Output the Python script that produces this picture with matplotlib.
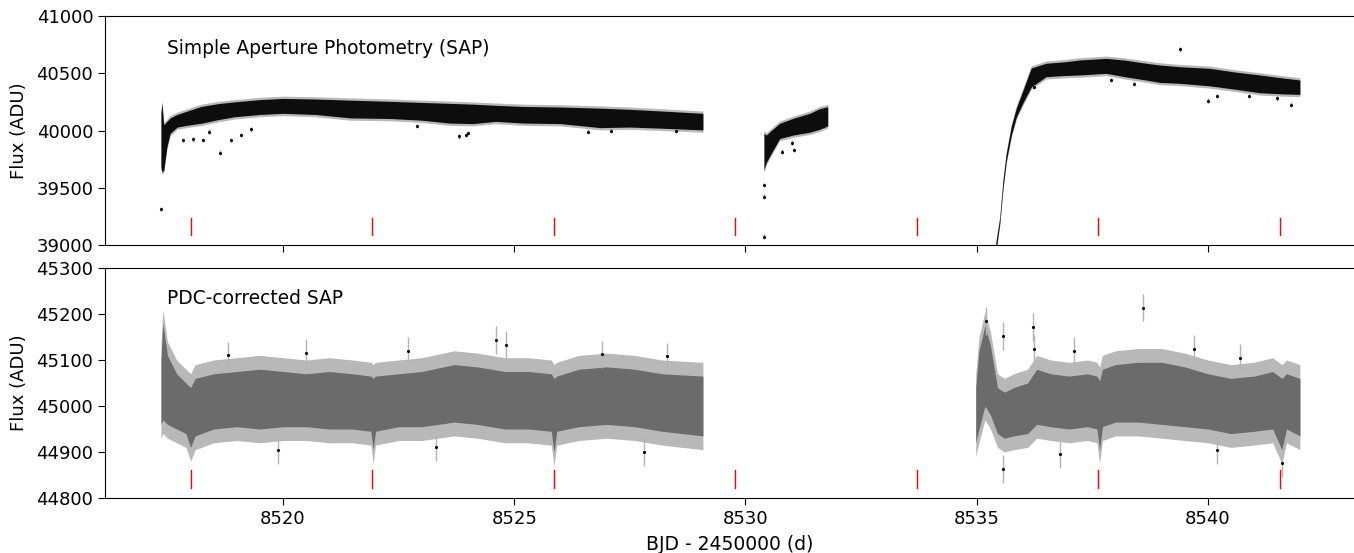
import numpy as np
import matplotlib
matplotlib.use("Agg")
from matplotlib import pyplot as plt

# transit epochs (red marks)
transits = [8518.01, 8521.93, 8525.86, 8529.78, 8533.71, 8537.63, 8541.56]

# ---- SAP: envelope of the dense point cloud ----
sap1_t = [8517.36, 8517.38, 8517.42, 8517.49, 8517.56, 8517.71, 8518.0, 8518.23, 8518.6,
          8518.95, 8519.5, 8520.0, 8520.7, 8521.45, 8522.3, 8523.0, 8523.6, 8524.1, 8524.6,
          8525.19, 8526.0, 8526.86, 8527.5, 8528.2, 8529.08]
sap1_hi = [40150, 40240, 40050, 40080, 40110, 40140, 40180, 40210, 40235,
           40250, 40270, 40280, 40275, 40265, 40255, 40245, 40237, 40230, 40220,
           40210, 40205, 40195, 40185, 40170, 40150]
sap1_lo = [39680, 39640, 39650, 39860, 39975, 40030, 40050, 40063, 40095,
           40120, 40140, 40150, 40140, 40110, 40105, 40090, 40065, 40060, 40080,
           40065, 40060, 40025, 40030, 40020, 40005]

sap2_t = [8530.40, 8530.45, 8530.53, 8530.74, 8531.03, 8531.39, 8531.60, 8531.78]
sap2_hi = [39976, 39960, 39990, 40063, 40106, 40150, 40190, 40208]
sap2_lo = [39655, 39720, 39780, 39930, 39960, 39985, 40010, 40040]

sap3_t = [8535.40, 8535.50, 8535.57, 8535.64, 8535.75, 8535.86, 8536.0, 8536.18, 8536.5,
          8536.9, 8537.23, 8537.8, 8538.2, 8538.67, 8538.96, 8539.39, 8540.04, 8540.6,
          8541.12, 8541.6, 8541.99]
sap3_hi = [38980, 39240, 39570, 39800, 40040, 40200, 40350, 40546, 40587,
           40600, 40616, 40630, 40615, 40587, 40572, 40557, 40543, 40510,
           40485, 40460, 40441]
sap3_lo = [38900, 39190, 39500, 39730, 39960, 40120, 40240, 40380, 40470,
           40480, 40485, 40499, 40470, 40440, 40420, 40412, 40390, 40360,
           40330, 40320, 40315]

sap_out_t = [8517.37, 8517.83, 8518.05, 8518.26, 8518.63, 8518.88, 8519.09, 8523.8, 8523.95,
             8526.6, 8530.40, 8530.40, 8530.40, 8530.80, 8531.00, 8531.06, 8539.39, 8540.0,
             8540.2, 8541.5, 8541.8, 8536.25, 8518.4, 8519.3, 8522.9, 8524.0, 8527.1,
             8528.5, 8537.9, 8538.4, 8540.9]
sap_out_f = [39315, 39917, 39923, 39917, 39806, 39917, 39961, 39950, 39960,
             39990, 39524, 39422, 39073, 39815, 39893, 39830, 40709, 40260,
             40300, 40280, 40225, 40380, 39990, 40010, 40040, 39980, 40000,
             39995, 40440, 40410, 40300]
sap_err = 20

# ---- PDC-corrected SAP ----
pdc1_t = [8517.36, 8517.40, 8517.5, 8517.7, 8517.9, 8518.0, 8518.1, 8518.5, 8519.0, 8519.5,
          8520.0, 8520.5, 8521.0, 8521.5, 8521.9, 8521.95, 8522.0, 8522.5, 8523.0, 8523.7,
          8524.2, 8524.8, 8525.3, 8525.8, 8525.86, 8525.92, 8526.4, 8527.0, 8527.6, 8528.2,
          8529.08]
pdc1_hi = [45100, 45180, 45110, 45070, 45050, 45040, 45060, 45070, 45075, 45080,
           45075, 45070, 45075, 45070, 45065, 45060, 45065, 45070, 45075, 45090,
           45085, 45075, 45075, 45070, 45060, 45065, 45080, 45085, 45080, 45070,
           45065]
pdc1_lo = [44960, 44970, 44960, 44950, 44940, 44910, 44935, 44950, 44955, 44950,
           44955, 44955, 44950, 44950, 44945, 44905, 44945, 44955, 44955, 44965,
           44960, 44950, 44950, 44945, 44900, 44945, 44955, 44960, 44955, 44945,
           44935]

pdc3_t = [8534.98, 8535.05, 8535.18, 8535.3, 8535.45, 8535.6, 8535.8, 8536.1, 8536.3,
          8536.6, 8537.0, 8537.4, 8537.6, 8537.66, 8537.72, 8538.0, 8538.5, 8539.0,
          8539.5, 8540.0, 8540.5, 8541.0, 8541.4, 8541.6, 8541.7, 8541.99]
pdc3_hi = [45040, 45120, 45175, 45130, 45040, 45030, 45040, 45050, 45080,
           45070, 45065, 45070, 45065, 45055, 45080, 45090, 45095, 45095,
           45085, 45070, 45060, 45065, 45075, 45060, 45070, 45060]
pdc3_lo = [44920, 44950, 45000, 44980, 44940, 44930, 44935, 44940, 44960,
           44955, 44950, 44955, 44950, 44905, 44955, 44965, 44965, 44960,
           44955, 44950, 44940, 44945, 44950, 44905, 44950, 44935]

pdc_out_t = [8535.56, 8535.56, 8536.22, 8536.25, 8538.6, 8535.2, 8524.6, 8524.82, 8541.6,
             8518.8, 8520.5, 8522.7, 8526.9, 8528.3, 8537.1, 8539.7, 8540.7, 8519.9,
             8523.3, 8527.8, 8536.8, 8540.2]
pdc_out_f = [45152, 44863, 45172, 45124, 45214, 45185, 45143, 45133, 44876,
             45110, 45115, 45120, 45112, 45108, 45120, 45125, 45105, 44905,
             44910, 44900, 44895, 44905]
pdc_err = 30


def draw_band(ax, t, hi, lo, err, core):
    t = np.array(t); hi = np.array(hi); lo = np.array(lo)
    ax.fill_between(t, lo - err, hi + err, color='0.72', lw=0)
    ax.fill_between(t, lo, hi, color=core, lw=0)


fig = plt.figure(figsize=(13.54, 5.53), dpi=100)
ax1 = fig.add_axes([105/1354, 1-245/553, 1-105/1354, 229/553])
ax2 = fig.add_axes([105/1354, 1-498/553, 1-105/1354, 230/553], sharex=ax1)

for t, hi, lo in [(sap1_t, sap1_hi, sap1_lo), (sap2_t, sap2_hi, sap2_lo), (sap3_t, sap3_hi, sap3_lo)]:
    draw_band(ax1, t, hi, lo, sap_err, '0.05')
ax1.errorbar(sap_out_t, sap_out_f, yerr=sap_err, fmt='.', ms=2.5, color='k', ecolor='0.6', elinewidth=1)

for t, hi, lo in [(pdc1_t, pdc1_hi, pdc1_lo), (pdc3_t, pdc3_hi, pdc3_lo)]:
    draw_band(ax2, t, hi, lo, pdc_err, '0.42')
ax2.errorbar(pdc_out_t, pdc_out_f, yerr=pdc_err, fmt='.', ms=2.5, color='k', ecolor='0.7', elinewidth=1)

for ax in (ax1, ax2):
    for tt in transits:
        ax.axvline(tt, ymin=0.045, ymax=0.12, color='r', lw=1)
    ax.spines['right'].set_visible(False)
    ax.tick_params(direction='out', labelsize=13, length=5)
    ax.set_ylabel('Flux (ADU)', fontsize=13, labelpad=6)

ax1.set_xlim(8516.15, 8543.16)
ax1.set_ylim(39000, 41000)
ax1.set_yticks([39000, 39500, 40000, 40500, 41000])
ax1.tick_params(labelbottom=False)
ax2.set_ylim(44800, 45300)
ax2.set_yticks([44800, 44900, 45000, 45100, 45200, 45300])
ax2.set_xticks([8520, 8525, 8530, 8535, 8540])
ax2.set_xlabel('BJD - 2450000 (d)', fontsize=13.5, labelpad=5)

ax1.text(0.05, 0.9, 'Simple Aperture Photometry (SAP)', transform=ax1.transAxes, va='top', fontsize=13.4)
ax2.text(0.05, 0.91, 'PDC-corrected SAP', transform=ax2.transAxes, va='top', fontsize=13.4)

fig.align_ylabels([ax1, ax2])
plt.savefig('out.png', dpi=100)
